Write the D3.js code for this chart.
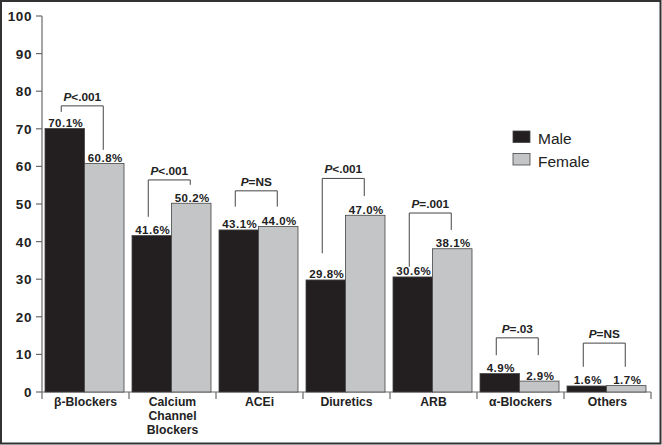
<!DOCTYPE html>
<html><head><meta charset="utf-8">
<script src="https://cdn.jsdelivr.net/npm/d3@7"></script>
<style>body{margin:0;background:#fff}svg{display:block}text{font-family:"Liberation Sans",Arial,Helvetica,sans-serif}</style>
</head><body>
<script>
const categories = [["β-Blockers"], ["Calcium", "Channel", "Blockers"], ["ACEi"], ["Diuretics"], ["ARB"], ["α-Blockers"], ["Others"]];
const male = [70.1, 41.6, 43.1, 29.8, 30.6, 4.9, 1.6];
const female = [60.8, 50.2, 44.0, 47.0, 38.1, 2.9, 1.7];
const pLabels = ["<.001", "<.001", "=NS", "<.001", "=.001", "=.03", "=NS"];
const bracketTop = [76.1, 56.4, 53.5, 56.8, 47.6, 14.4, 13.0];
const bracketLeftEnd = [74.5, 46.6, 49.3, 36.9, 33.3, 9.8, 6.7];
const bracketRightEnd = [64.4, 55.1, 49.3, 52.1, 43.1, 9.8, 6.7];
const yTicks = [0, 10, 20, 30, 40, 50, 60, 70, 80, 90, 100];
const seriesNames = ["Male", "Female"];
const colors = ["#231f20", "#c3c5c7"];

const W = 662, H = 445;
const svg = d3.select("body").append("svg").attr("width", W).attr("height", H);
svg.append("rect").attr("x", 1).attr("y", 1).attr("width", W - 2.5).attr("height", H - 2.5)
  .attr("fill", "#fff").attr("stroke", "#333").attr("stroke-width", 2);

const x = d3.scaleBand().domain(d3.range(categories.length)).range([42, 651]);
const y = d3.scaleLinear().domain([0, 100]).range([392, 16]);
const barW = 39.5, pad = 3;

// Y axis
const gy = svg.append("g");
gy.append("line").attr("x1", 42).attr("x2", 42).attr("y1", y(100)).attr("y2", 399).attr("stroke", "#6a6a6a").attr("stroke-width", 1.2);
gy.selectAll("line.t").data(yTicks).join("line").attr("class", "t")
  .attr("x1", 36).attr("x2", 42).attr("y1", d => y(d)).attr("y2", d => y(d)).attr("stroke", "#6a6a6a").attr("stroke-width", 1.2);
gy.selectAll("text").data(yTicks).join("text")
  .attr("x", 32).attr("y", d => y(d) + 5).attr("text-anchor", "end")
  .attr("font-size", 13.5).attr("letter-spacing", 0.6).attr("font-weight", "bold").attr("fill", "#222").text(d => d);

// X axis
svg.append("line").attr("x1", 42).attr("x2", 651).attr("y1", 392).attr("y2", 392).attr("stroke", "#6a6a6a").attr("stroke-width", 1.2);
svg.selectAll("line.xt").data(d3.range(1, categories.length + 1)).join("line").attr("class", "xt")
  .attr("x1", d => x.range()[0] + d * x.bandwidth()).attr("x2", d => x.range()[0] + d * x.bandwidth())
  .attr("y1", 392).attr("y2", 399).attr("stroke", "#6a6a6a").attr("stroke-width", 1.2);
const cl = svg.selectAll("text.cat").data(categories).join("text").attr("class", "cat")
  .attr("text-anchor", "middle").attr("font-size", 12.2).attr("font-weight", "bold").attr("fill", "#222");
cl.each(function(lines, i) {
  d3.select(this).selectAll("tspan").data(lines).join("tspan")
    .attr("x", x(i) + x.bandwidth() / 2).attr("y", (d, j) => 406 + j * 14).text(d => d);
});

// Bars
const series = [male, female];
series.forEach((vals, s) => {
  svg.selectAll("text.v" + s).data(vals).join("text").attr("class", "v" + s)
    .attr("x", (d, i) => x(i) + pad + s * barW + barW / 2 + 1)
    .attr("y", d => y(d) - 1.5).attr("text-anchor", "middle")
    .attr("font-size", 11.5).attr("letter-spacing", 0.5).attr("font-weight", "bold").attr("fill", "#222")
    .text(d => d.toFixed(1) + "%");
  svg.selectAll("rect.b" + s).data(vals).join("rect").attr("class", "b" + s)
    .attr("x", (d, i) => x(i) + pad + s * barW).attr("width", barW)
    .attr("y", d => y(d)).attr("height", d => y(0) - y(d))
    .attr("fill", colors[s]).attr("stroke", "#444").attr("stroke-width", 0.8);
});

// Brackets
categories.forEach((c, i) => {
  const xl = x(i) + pad + barW / 2 - 3.5;
  const xr = x(i) + pad + barW * 1.5 - 1;
  svg.append("path")
    .attr("d", `M${xl},${y(bracketLeftEnd[i])}V${y(bracketTop[i])}H${xr}V${y(bracketRightEnd[i])}`)
    .attr("fill", "none").attr("stroke", "#444").attr("stroke-width", 1);
  const t = svg.append("text").attr("x", (xl + xr) / 2).attr("y", y(bracketTop[i]) - 5)
    .attr("text-anchor", "middle").attr("font-size", 11.8).attr("font-weight", "bold").attr("fill", "#222");
  t.append("tspan").attr("font-style", "italic").text("P");
  t.append("tspan").text(pLabels[i]);
});

// Legend
const lg = svg.append("g");
seriesNames.forEach((n, s) => {
  lg.append("rect").attr("x", 513).attr("y", 131 + s * 22.5).attr("width", 17).attr("height", 11.5)
    .attr("fill", colors[s]).attr("stroke", "#444").attr("stroke-width", 0.8);
  lg.append("text").attr("x", 538).attr("y", 144 + s * 22.5).attr("font-size", 15.5).attr("fill", "#222").text(n);
});
</script>
</body></html>
